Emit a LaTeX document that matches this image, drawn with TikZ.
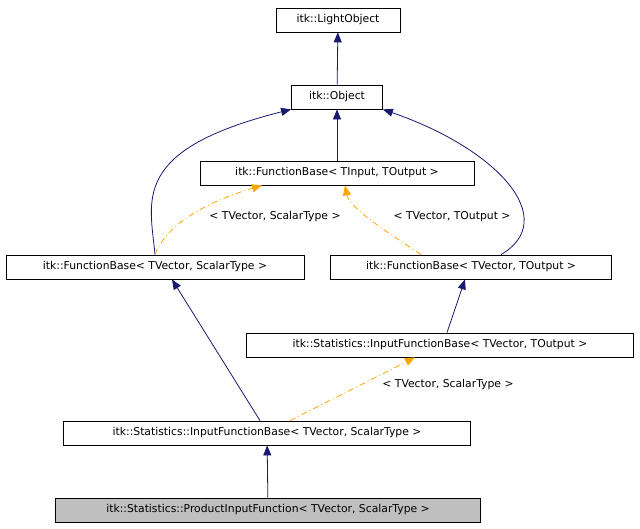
\documentclass[tikz,border=0pt]{standalone}
\usepackage{fontspec}
\setmainfont{DejaVu Sans}
\usetikzlibrary{arrows.meta}
\definecolor{navy}{HTML}{191970}
\definecolor{orng}{HTML}{FFA500}
\begin{document}
\begin{tikzpicture}[x=1pt,y=-1pt,line width=0.8pt,
  box/.style={draw,rectangle,minimum height=24pt,inner sep=0pt,font=\fontsize{10.8}{12}\selectfont},
  inh/.style={navy,-{Triangle[length=10pt,width=8pt]}},
  tpl/.style={orng,dash pattern=on 6pt off 3pt on 1pt off 3pt,-{Triangle[length=10pt,width=8pt]}},
  lbl/.style={font=\fontsize{10.8}{12}\selectfont}]
\useasboundingbox (0,0) rectangle (640,528);
\node[box,minimum width=124pt] (lo) at (338,20) {itk::LightObject};
\node[box,minimum width=91pt] (ob) at (337,97) {itk::Object};
\node[box,minimum width=274pt] (fbi) at (337,173) {itk::FunctionBase< TInput, TOutput >};
\node[box,minimum width=298pt] (fbs) at (155,267) {itk::FunctionBase< TVector, ScalarType >};
\node[box,minimum width=281pt] (fbo) at (471,267) {itk::FunctionBase< TVector, TOutput >};
\node[box,minimum width=387pt] (ifo) at (440,345) {itk::Statistics::InputFunctionBase< TVector, TOutput >};
\node[box,minimum width=407pt] (ifs) at (267,433) {itk::Statistics::InputFunctionBase< TVector, ScalarType >};
\node[box,minimum width=425pt,fill=black!25] (pif) at (268,510) {itk::Statistics::ProductInputFunction< TVector, ScalarType >};
\draw[inh] (ob) -- (lo);
\draw[inh] (fbi) -- (ob);
\draw[inh] (fbs.north) .. controls (150,200) and (130,150) .. (ob.south west);
\draw[inh] ([xshift=30pt]fbo.north) .. controls (560,220) and (500,150) .. (ob.south east);
\draw[tpl] (fbs.north) .. controls (170,215) and (230,195) .. ([xshift=-75pt]fbi.south);
\draw[tpl] ([xshift=-50pt]fbo.north) .. controls (400,240) and (350,210) .. ([xshift=8pt]fbi.south);
\draw[inh] ([xshift=7pt]ifo.north) -- ([xshift=-6pt]fbo.south);
\draw[inh] ([xshift=-7pt]ifs.north) -- ([xshift=17pt]fbs.south);
\draw[tpl] ([xshift=23pt]ifs.north) -- ([xshift=-25pt]ifo.south);
\draw[inh] (pif) -- (ifs);
\node[lbl] (l1) at (275,217) {< TVector, ScalarType >};
\node[lbl] (l2) at (452,217) {< TVector, TOutput >};
\node[lbl] (l3) at (448,385) {< TVector, ScalarType >};
\end{tikzpicture}
\end{document}
